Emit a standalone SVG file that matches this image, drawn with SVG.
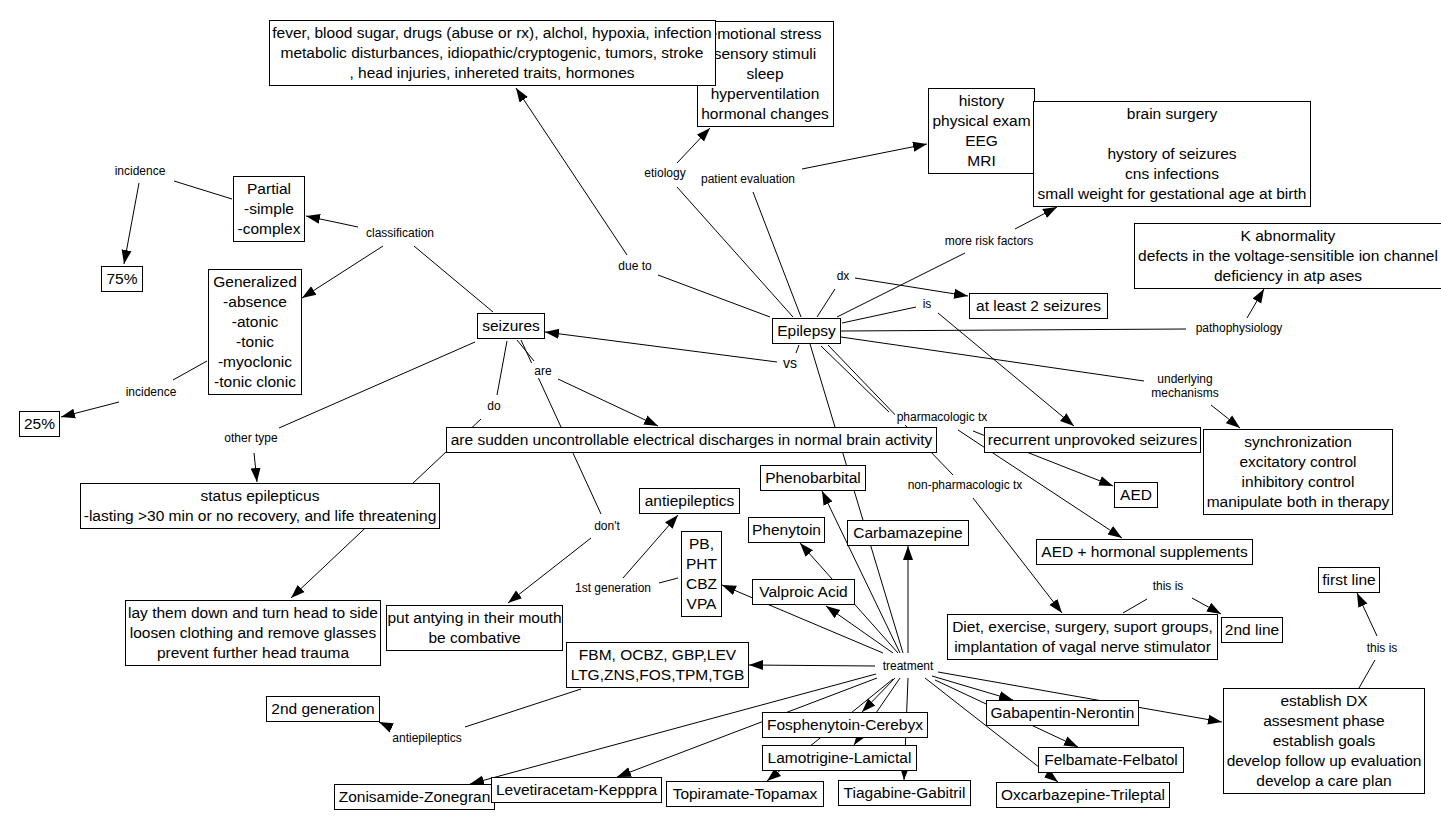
<svg xmlns="http://www.w3.org/2000/svg" width="1441" height="829" viewBox="0 0 1441 829">
<style>
.b{fill:#fff;stroke:#000;stroke-width:1}
.t{font-family:"Liberation Sans",Arial,sans-serif;font-size:15.5px;text-anchor:middle;fill:#000}
.l{font-family:"Liberation Sans",Arial,sans-serif;font-size:12px;text-anchor:middle;fill:#000}
.bg{fill:#fff}
#connectors line{stroke:#000;stroke-width:1;fill:none}
#connectors line.a{marker-end:url(#ah)}
</style>
<defs>
<marker id="ah" markerUnits="userSpaceOnUse" markerWidth="14" markerHeight="12" viewBox="0 0 14 12" refX="14" refY="6" orient="auto"><path d="M0,1 L14,6 L0,11 Z" fill="#000"/></marker>
</defs>
<rect width="1441" height="829" fill="#fff"/>
<g id="connectors">
<line x1="232" y1="199" x2="174" y2="181"/>
<line class="a" x1="139" y1="183" x2="124" y2="264"/>
<line class="a" x1="358" y1="227" x2="306" y2="216"/>
<line class="a" x1="383" y1="246" x2="302" y2="298"/>
<line x1="493" y1="312" x2="414" y2="246"/>
<line x1="207" y1="361" x2="173" y2="380"/>
<line class="a" x1="119" y1="402" x2="61" y2="417"/>
<line x1="475" y1="342" x2="279" y2="428"/>
<line class="a" x1="254" y1="453" x2="257" y2="482"/>
<line x1="507" y1="341" x2="497" y2="395"/>
<line class="a" x1="481" y1="419" x2="291" y2="598"/>
<line x1="517" y1="340" x2="534" y2="361"/>
<line class="a" x1="558" y1="379" x2="658" y2="426"/>
<line x1="521" y1="340" x2="601" y2="514"/>
<line class="a" x1="591" y1="538" x2="508" y2="603"/>
<line x1="770" y1="317" x2="658" y2="275"/>
<line class="a" x1="627" y1="255" x2="516" y2="88"/>
<line x1="793" y1="317" x2="677" y2="187"/>
<line class="a" x1="677" y1="163" x2="710" y2="128"/>
<line x1="801" y1="317" x2="753" y2="192"/>
<line class="a" x1="802" y1="169" x2="927" y2="144"/>
<line x1="817" y1="317" x2="835" y2="289"/>
<line class="a" x1="855" y1="278" x2="968" y2="296"/>
<line x1="837" y1="317" x2="965" y2="253"/>
<line class="a" x1="1015" y1="229" x2="1057" y2="207"/>
<line x1="842" y1="323" x2="916" y2="307"/>
<line class="a" x1="938" y1="313" x2="1074" y2="426"/>
<line x1="841" y1="331" x2="1186" y2="329"/>
<line class="a" x1="1247" y1="318" x2="1264" y2="289"/>
<line x1="841" y1="337" x2="1144" y2="381"/>
<line class="a" x1="1211" y1="405" x2="1240" y2="428"/>
<line x1="799" y1="345" x2="796" y2="353"/>
<line class="a" x1="777" y1="362" x2="545" y2="332"/>
<line x1="821" y1="346" x2="889" y2="412"/>
<line x1="828" y1="345" x2="953" y2="475"/>
<line class="a" x1="973" y1="431" x2="1113" y2="486"/>
<line class="a" x1="958" y1="430" x2="1122" y2="538"/>
<line class="a" x1="973" y1="498" x2="1062" y2="613"/>
<line x1="1123" y1="613" x2="1147" y2="599"/>
<line class="a" x1="1192" y1="598" x2="1221" y2="614"/>
<line x1="1359" y1="688" x2="1375" y2="660"/>
<line class="a" x1="1377" y1="636" x2="1357" y2="593"/>
<line x1="810" y1="344" x2="903" y2="653"/>
<line class="a" x1="883" y1="653" x2="722" y2="585"/>
<line class="a" x1="893" y1="653" x2="826" y2="606"/>
<line class="a" x1="898" y1="653" x2="800" y2="543"/>
<line class="a" x1="900" y1="653" x2="822" y2="491"/>
<line class="a" x1="908" y1="653" x2="908" y2="546"/>
<line class="a" x1="875" y1="666" x2="749" y2="665"/>
<line class="a" x1="876" y1="674" x2="470" y2="784"/>
<line class="a" x1="877" y1="678" x2="617" y2="777"/>
<line class="a" x1="895" y1="678" x2="862" y2="712"/>
<line class="a" x1="900" y1="678" x2="854" y2="745"/>
<line class="a" x1="893" y1="679" x2="767" y2="781"/>
<line class="a" x1="908" y1="678" x2="904" y2="780"/>
<line class="a" x1="932" y1="676" x2="1013" y2="700"/>
<line class="a" x1="935" y1="680" x2="1078" y2="747"/>
<line class="a" x1="925" y1="678" x2="1058" y2="782"/>
<line class="a" x1="938" y1="672" x2="1222" y2="722"/>
<line x1="678" y1="578" x2="659" y2="583"/>
<line class="a" x1="623" y1="578" x2="678" y2="515"/>
<line x1="581" y1="689" x2="465" y2="727"/>
<line class="a" x1="392" y1="728" x2="379" y2="722"/>
</g>
<g id="nodes">
<g id="n_triggers"><rect class="b" x="697.5" y="21.5" width="136" height="105"/><text class="t" x="765" y="39">emotional stress</text><text class="t" x="765" y="59">sensory stimuli</text><text class="t" x="765" y="79">sleep</text><text class="t" x="765" y="99">hyperventilation</text><text class="t" x="765" y="119">hormonal changes</text></g>
<g id="n_causes"><rect class="b" x="269.5" y="20.5" width="446" height="65"/><text class="t" x="492" y="38">fever, blood sugar, drugs (abuse or rx), alchol, hypoxia, infection</text><text class="t" x="492" y="58">metabolic disturbances, idiopathic/cryptogenic, tumors, stroke</text><text class="t" x="492" y="78">, head injuries, inhereted traits, hormones</text></g>
<g id="n_eval"><rect class="b" x="928.5" y="88.5" width="106" height="85"/><text class="t" x="981.5" y="106">history</text><text class="t" x="981.5" y="126">physical exam</text><text class="t" x="981.5" y="146">EEG</text><text class="t" x="981.5" y="166">MRI</text></g>
<g id="n_risk"><rect class="b" x="1033.5" y="101.5" width="277" height="105"/><text class="t" x="1172" y="119">brain surgery</text><text class="t" x="1172" y="159">hystory of seizures</text><text class="t" x="1172" y="179">cns infections</text><text class="t" x="1172" y="199">small weight for gestational age at birth</text></g>
<g id="n_k"><rect class="b" x="1134.5" y="223.5" width="308" height="65"/><text class="t" x="1288" y="241">K abnormality</text><text class="t" x="1288" y="261">defects in the voltage-sensitible ion channel</text><text class="t" x="1288" y="281">deficiency in atp ases</text></g>
<g id="n_atleast"><rect class="b" x="969.5" y="293.5" width="138" height="25"/><text class="t" x="1038.5" y="311">at least 2 seizures</text></g>
<g id="n_partial"><rect class="b" x="233.5" y="176.5" width="71" height="65"/><text class="t" x="269" y="194">Partial</text><text class="t" x="269" y="214">-simple</text><text class="t" x="269" y="234">-complex</text></g>
<g id="n_75"><rect class="b" x="101.5" y="266.5" width="41" height="25"/><text class="t" x="122" y="284">75%</text></g>
<g id="n_gen"><rect class="b" x="208.5" y="269.5" width="93" height="125"/><text class="t" x="255" y="287">Generalized</text><text class="t" x="255" y="307">-absence</text><text class="t" x="255" y="327">-atonic</text><text class="t" x="255" y="347">-tonic</text><text class="t" x="255" y="367">-myoclonic</text><text class="t" x="255" y="387">-tonic clonic</text></g>
<g id="n_25"><rect class="b" x="19.5" y="411.5" width="40" height="25"/><text class="t" x="39.5" y="429">25%</text></g>
<g id="n_seizures"><rect class="b" x="477.5" y="313.5" width="67" height="25"/><text class="t" x="511" y="331">seizures</text></g>
<g id="n_epilepsy"><rect class="b" x="772.5" y="318.5" width="68" height="25"/><text class="t" x="806.5" y="336">Epilepsy</text></g>
<g id="n_sudden"><rect class="b" x="446.5" y="427.5" width="490" height="25"/><text class="t" x="691.5" y="445">are sudden uncontrollable electrical discharges in normal brain activity</text></g>
<g id="n_recurrent"><rect class="b" x="984.5" y="427.5" width="216" height="25"/><text class="t" x="1092.5" y="445">recurrent unprovoked seizures</text></g>
<g id="n_sync"><rect class="b" x="1203.5" y="429.5" width="189" height="85"/><text class="t" x="1298" y="447">synchronization</text><text class="t" x="1298" y="467">excitatory control</text><text class="t" x="1298" y="487">inhibitory control</text><text class="t" x="1298" y="507">manipulate both in therapy</text></g>
<g id="n_aed"><rect class="b" x="1114.5" y="482.5" width="43" height="25"/><text class="t" x="1136" y="500">AED</text></g>
<g id="n_aedh"><rect class="b" x="1036.5" y="539.5" width="216" height="25"/><text class="t" x="1144.5" y="557">AED + hormonal supplements</text></g>
<g id="n_status"><rect class="b" x="80.5" y="483.5" width="359" height="45"/><text class="t" x="260" y="501">status epilepticus</text><text class="t" x="260" y="521">-lasting &gt;30 min or no recovery, and life threatening</text></g>
<g id="n_lay"><rect class="b" x="125.5" y="600.5" width="255" height="65"/><text class="t" x="253" y="618">lay them down and turn head to side</text><text class="t" x="253" y="638">loosen clothing and remove glasses</text><text class="t" x="253" y="658">prevent further head trauma</text></g>
<g id="n_put"><rect class="b" x="386.5" y="605.5" width="176" height="45"/><text class="t" x="474.5" y="623">put antying in their mouth</text><text class="t" x="474.5" y="643">be combative</text></g>
<g id="n_fbm"><rect class="b" x="566.5" y="642.5" width="182" height="45"/><text class="t" x="657.5" y="660">FBM, OCBZ, GBP,LEV</text><text class="t" x="657.5" y="680">LTG,ZNS,FOS,TPM,TGB</text></g>
<g id="n_2gen"><rect class="b" x="266.5" y="696.5" width="113" height="25"/><text class="t" x="323" y="714">2nd generation</text></g>
<g id="n_zon"><rect class="b" x="334.5" y="784.5" width="160" height="25"/><text class="t" x="414.5" y="802">Zonisamide-Zonegran</text></g>
<g id="n_lev"><rect class="b" x="491.5" y="777.5" width="170" height="25"/><text class="t" x="576.5" y="795">Levetiracetam-Kepppra</text></g>
<g id="n_top"><rect class="b" x="666.5" y="781.5" width="157" height="25"/><text class="t" x="745" y="799">Topiramate-Topamax</text></g>
<g id="n_lam"><rect class="b" x="762.5" y="745.5" width="154" height="25"/><text class="t" x="839.5" y="763">Lamotrigine-Lamictal</text></g>
<g id="n_fos"><rect class="b" x="762.5" y="712.5" width="165" height="25"/><text class="t" x="845" y="730">Fosphenytoin-Cerebyx</text></g>
<g id="n_tia"><rect class="b" x="838.5" y="780.5" width="132" height="25"/><text class="t" x="904.5" y="798">Tiagabine-Gabitril</text></g>
<g id="n_gab"><rect class="b" x="986.5" y="700.5" width="152" height="25"/><text class="t" x="1062.5" y="718">Gabapentin-Nerontin</text></g>
<g id="n_felb"><rect class="b" x="1038.5" y="747.5" width="145" height="25"/><text class="t" x="1111" y="765">Felbamate-Felbatol</text></g>
<g id="n_oxc"><rect class="b" x="996.5" y="782.5" width="173" height="25"/><text class="t" x="1083" y="800">Oxcarbazepine-Trileptal</text></g>
<g id="n_dx"><rect class="b" x="1223.5" y="688.5" width="201" height="105"/><text class="t" x="1324" y="706">establish DX</text><text class="t" x="1324" y="726">assesment phase</text><text class="t" x="1324" y="746">establish goals</text><text class="t" x="1324" y="766">develop follow up evaluation</text><text class="t" x="1324" y="786">develop a care plan</text></g>
<g id="n_first"><rect class="b" x="1318.5" y="567.5" width="61" height="25"/><text class="t" x="1349" y="585">first line</text></g>
<g id="n_2line"><rect class="b" x="1221.5" y="617.5" width="61" height="25"/><text class="t" x="1252" y="635">2nd line</text></g>
<g id="n_diet"><rect class="b" x="947.5" y="614.5" width="270" height="45"/><text class="t" x="1082.5" y="632">Diet, exercise, surgery, suport groups,</text><text class="t" x="1082.5" y="652">implantation of vagal nerve stimulator</text></g>
<g id="n_valp"><rect class="b" x="752.5" y="579.5" width="102" height="25"/><text class="t" x="803.5" y="597">Valproic Acid</text></g>
<g id="n_pb"><rect class="b" x="681.5" y="531.5" width="40" height="85"/><text class="t" x="701.5" y="549">PB,</text><text class="t" x="701.5" y="569">PHT</text><text class="t" x="701.5" y="589">CBZ</text><text class="t" x="701.5" y="609">VPA</text></g>
<g id="n_anti1"><rect class="b" x="639.5" y="488.5" width="100" height="25"/><text class="t" x="689.5" y="506">antiepileptics</text></g>
<g id="n_phen"><rect class="b" x="748.5" y="517.5" width="76" height="25"/><text class="t" x="786.5" y="535">Phenytoin</text></g>
<g id="n_phenob"><rect class="b" x="760.5" y="465.5" width="105" height="25"/><text class="t" x="813" y="483">Phenobarbital</text></g>
<g id="n_carb"><rect class="b" x="847.5" y="520.5" width="121" height="25"/><text class="t" x="908" y="538">Carbamazepine</text></g>
</g>
<g id="labels">
<g id="l_inc1"><text class="l" x="140" y="175">incidence</text></g>
<g id="l_class"><text class="l" x="400" y="237">classification</text></g>
<g id="l_inc2"><text class="l" x="151" y="396">incidence</text></g>
<g id="l_other"><text class="l" x="251" y="442">other type</text></g>
<g id="l_do"><text class="l" x="494" y="410">do</text></g>
<g id="l_are"><rect class="bg" x="530" y="363" width="26" height="15"/><text class="l" x="543" y="375">are</text></g>
<g id="l_due"><text class="l" x="635" y="270">due to</text></g>
<g id="l_etio"><text class="l" x="665" y="177">etiology</text></g>
<g id="l_pe"><text class="l" x="748" y="183">patient evaluation</text></g>
<g id="l_dx"><text class="l" x="843" y="280">dx</text></g>
<g id="l_mrf"><text class="l" x="989" y="245">more risk factors</text></g>
<g id="l_is"><text class="l" x="927" y="308">is</text></g>
<g id="l_vs"><text class="l" x="790" y="368" style="font-size:14px">vs</text></g>
<g id="l_patho"><text class="l" x="1239" y="332">pathophysiology</text></g>
<g id="l_und"><text class="l" x="1185" y="383">underlying</text><text class="l" x="1185" y="397">mechanisms</text></g>
<g id="l_pharm"><rect class="bg" x="895" y="409" width="94" height="16"/><text class="l" x="942" y="421">pharmacologic tx</text></g>
<g id="l_nonph"><text class="l" x="965" y="489">non-pharmacologic tx</text></g>
<g id="l_dont"><text class="l" x="607" y="530">don't</text></g>
<g id="l_1st"><text class="l" x="613" y="592">1st generation</text></g>
<g id="l_treat"><text class="l" x="908" y="670">treatment</text></g>
<g id="l_anti2"><text class="l" x="427" y="742">antiepileptics</text></g>
<g id="l_this1"><text class="l" x="1168" y="590">this is</text></g>
<g id="l_this2"><text class="l" x="1382" y="652">this is</text></g>
</g>
</svg>
